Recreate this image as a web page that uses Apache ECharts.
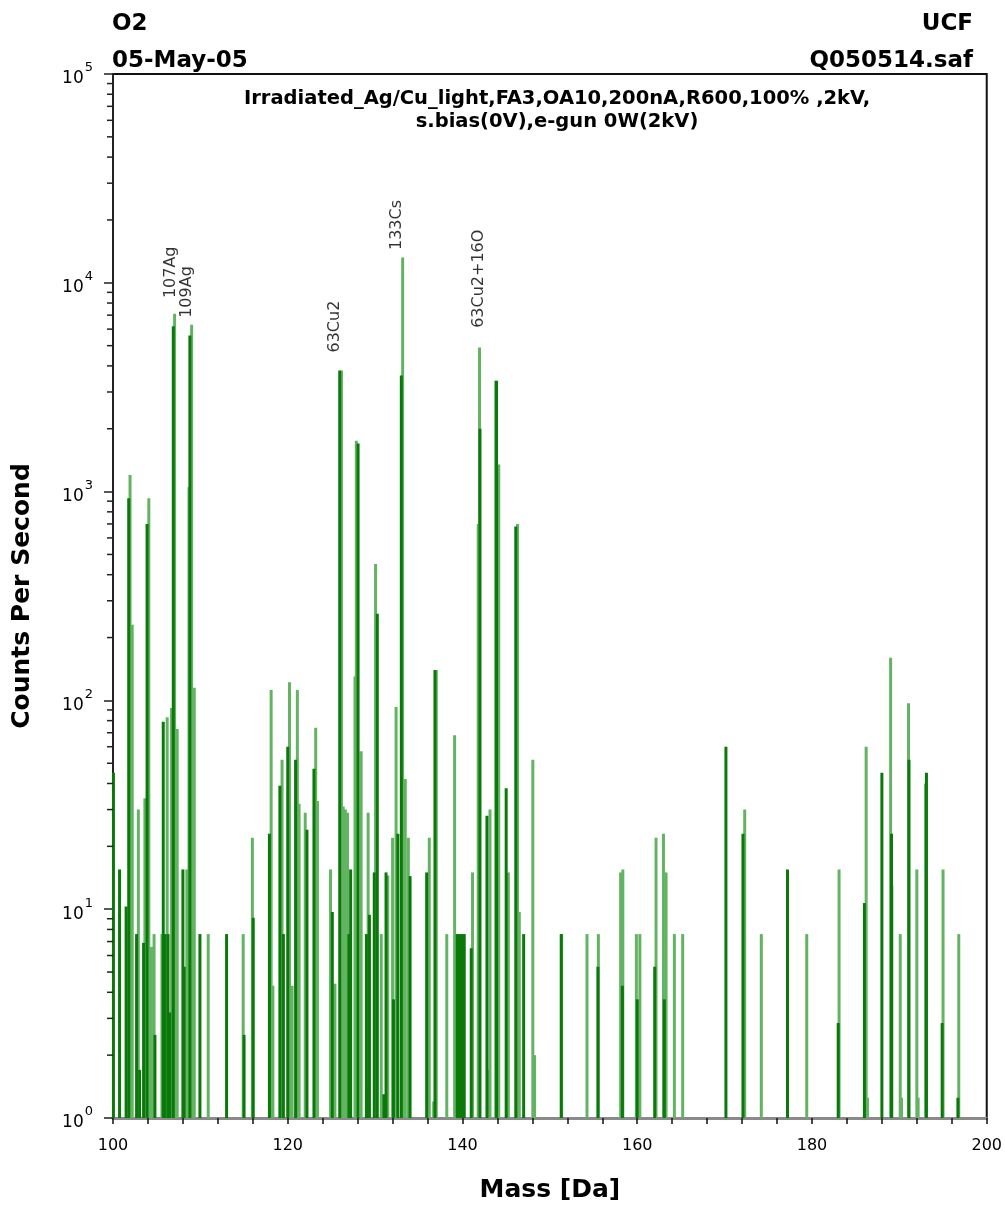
<!DOCTYPE html>
<html>
<head>
<meta charset="utf-8">
<script src="https://cdn.jsdelivr.net/npm/echarts@6/dist/echarts.min.js"></script>
<style>
  html, body { margin: 0; padding: 0; background: #fff; overflow: hidden; }
  #chart { width: 1005px; height: 1208px; }
</style>
</head>
<body>
<div id="chart"></div>
<script>
// dark green sticks: mass [Da] / counts per second
var darkMass = [100.05, 100.75, 101.5, 101.8, 102.7, 103.05, 103.5, 103.9, 104.8, 105.75, 105.95, 106.3, 106.5, 106.9,
  108.0, 108.15, 108.8, 109.95, 113.0, 115.0, 116.05, 117.9, 119.1, 119.5, 120.0, 120.9, 122.2, 123.0, 125.1, 125.95,
  127.0, 127.2, 128.05, 129.0, 129.15, 129.35, 129.9, 130.25, 131.0, 131.25, 132.1, 132.6, 133.0, 134.0, 135.9, 136.85,
  139.4, 139.65, 139.9, 140.2, 141.0, 142.0, 142.8, 143.9, 145.0, 146.1, 147.0, 151.3, 155.5, 158.3, 160.0, 162.0,
  163.1, 170.15, 172.1, 177.2, 183.0, 186.0, 188.0, 189.1, 191.1, 193.1, 194.9, 196.7]
var darkVal = [45, 15.5, 10.3, 930, 7.6, 1.7, 6.9, 700, 2.5, 79, 7.6, 7.6, 3.2, 6200,
  15.5, 5.3, 5600, 7.6, 7.6, 2.5, 9.1, 23, 39, 7.6, 60, 52, 24, 47, 9.7, 3800,
  7.6, 15.5, 1700, 7.6, 1.4, 9.4, 15, 260, 1.3, 15, 3.7, 23, 3600, 14.4, 15, 140,
  7.6, 7.6, 7.6, 7.6, 6.5, 2000, 28, 3400, 38, 680, 7.6, 7.6, 5.3, 4.3, 3.7, 5.3,
  3.7, 60, 23, 15.5, 2.85, 10.7, 45, 23, 52, 45, 2.85, 1.25]

// light green sticks
var lightMass = [101.95, 102.2, 102.9, 103.65, 104.1, 104.4, 104.7, 105.6, 106.2, 106.7, 107.05, 107.35, 108.45, 108.7,
  109.0, 109.3, 110.9, 114.9, 115.95, 118.1, 118.3, 119.35, 120.2, 120.5, 121.1, 121.3, 122.0, 123.2, 123.4, 124.9,
  125.4, 126.15, 126.35, 126.6, 126.85, 127.7, 127.85, 128.4, 129.2, 130.05, 130.7, 131.45, 132.0, 132.4, 133.15, 133.45,
  133.8, 136.2, 136.7, 137.0, 138.2, 139.1, 141.15, 141.8, 141.95, 142.95, 143.15, 143.8, 144.15, 145.25, 146.3, 146.5,
  148.05, 148.25, 151.35, 154.25, 155.55, 158.1, 158.35, 159.9, 160.3, 162.15, 163.0, 163.3, 164.25, 165.2, 172.3, 174.2,
  179.4, 183.1, 186.2, 186.35, 189.0, 189.15, 190.1, 190.25, 191.05, 192.0, 192.15, 193.0, 195.0, 196.8]
var lightVal = [1200, 230, 30, 34, 930, 6.6, 7.6, 7.6, 83, 92, 7100, 73, 15.5, 1050,
  6300, 115, 7.6, 7.6, 22, 112, 4.3, 52, 122, 4.3, 112, 32, 29, 74, 33, 15.5,
  4.4, 3800, 31, 30, 29, 130, 1750, 57, 29, 450, 7.6, 14.5, 22, 93, 13200, 42,
  22, 22, 1.2, 140, 7.6, 68, 15, 700, 4900, 1.7, 30, 3400, 1350, 15, 700, 9.7,
  52, 2.0, 7.6, 7.6, 7.6, 15, 15.5, 7.6, 7.6, 22, 23, 15, 7.6, 7.6, 30, 7.6,
  7.6, 15.5, 60, 1.25, 160, 13, 7.6, 1.25, 97, 15.5, 1.25, 40, 15.5, 7.6]

// peak annotations (anchor = bottom of the rotated text)
var peakNames = ['107Ag', '109Ag', '63Cu2', '133Cs', '63Cu2+16O']
var peakMass = [106.65, 108.54, 125.42, 132.55, 141.93]
var peakVal = [8400, 6760, 4610, 14280, 6050]

var FONT = '"DejaVu Sans", Arial, sans-serif'

function zip (a, b) {
  return a.map(function (v, i) { return [v, b[i]] })
}

// log minor ticks at 2..9 x 10^k, drawn on the left axis (mass 100)
var minorTickVals = []
for (var k = 0; k < 5; k++) {
  for (var j = 2; j < 10; j++) minorTickVals.push([100, j * Math.pow(10, k)])
}

function renderStick (params, api) {
  var top = api.coord([api.value(0), api.value(1)])
  var base = api.coord([api.value(0), 1])
  var w = 3
  return {
    type: 'rect',
    shape: { x: top[0] - w / 2, y: top[1], width: w, height: base[1] - top[1] },
    style: { fill: api.visual('color') }
  }
}

function renderMinorTick (params, api) {
  var p = api.coord([api.value(0), api.value(1)])
  return {
    type: 'line',
    shape: { x1: p[0] - 6, y1: p[1], x2: p[0], y2: p[1] },
    style: { stroke: '#222', lineWidth: 1.5 }
  }
}

var headStyle = { fontFamily: FONT, fontWeight: 'bold', fontSize: 23, color: '#000' }

var chart = echarts.init(document.getElementById('chart'))
var option = {
  animation: false,
  backgroundColor: '#fff',
  title: [
    { text: 'O2', left: 112, top: 13, padding: 0, textStyle: headStyle },
    { text: '05-May-05', left: 112, top: 50, padding: 0, textStyle: headStyle },
    { text: 'UCF', right: 32, top: 13, padding: 0, textStyle: headStyle },
    { text: 'Q050514.saf', right: 32, top: 50, padding: 0, textStyle: headStyle },
    {
      text: 'Irradiated_Ag/Cu_light,FA3,OA10,200nA,R600,100% ,2kV,\ns.bias(0V),e-gun 0W(2kV)',
      left: 552,
      top: 82,
      textAlign: 'center',
      textStyle: { fontFamily: FONT, fontWeight: 'bold', fontSize: 19.5, lineHeight: 23, color: '#000' }
    }
  ],
  grid: {
    left: 113,
    right: 13,
    top: 74,
    bottom: 83,
    show: true,
    borderColor: '#111',
    borderWidth: 2
  },
  xAxis: {
    type: 'value',
    min: 100,
    max: 200,
    interval: 20,
    name: 'Mass [Da]',
    nameLocation: 'middle',
    nameGap: 60,
    nameTextStyle: { fontFamily: FONT, fontWeight: 'bold', fontSize: 25, color: '#000' },
    axisLine: { onZero: false, lineStyle: { color: '#8a8a8a', width: 3 } },
    axisTick: { show: true, length: 6, lineStyle: { color: '#111', width: 1.5 } },
    minorTick: { show: true, splitNumber: 5, length: 6, lineStyle: { color: '#111', width: 1.5 } },
    splitLine: { show: false },
    axisLabel: { fontFamily: FONT, fontSize: 16, color: '#000', margin: 20 }
  },
  yAxis: {
    type: 'log',
    logBase: 10,
    min: 1,
    max: 100000,
    name: 'Counts Per Second',
    nameLocation: 'middle',
    nameGap: 78,
    nameTextStyle: { fontFamily: FONT, fontWeight: 'bold', fontSize: 25, color: '#000' },
    axisLine: { lineStyle: { color: '#222', width: 2 } },
    axisTick: { show: true, length: 9, lineStyle: { color: '#222', width: 1.5 } },
    splitLine: { show: false },
    axisLabel: {
      margin: 20,
      formatter: function (v) {
        return '{b|10}{e|' + Math.round(Math.log10(v)) + '}'
      },
      rich: {
        b: { fontFamily: FONT, fontSize: 17, color: '#000', padding: [10, 0, 0, 0] },
        e: { fontFamily: FONT, fontSize: 13, color: '#000', padding: [0, 0, 12, 1] }
      }
    }
  },
  series: [
    {
      name: 'light',
      type: 'custom',
      renderItem: renderStick,
      itemStyle: { color: '#62b462' },
      encode: { x: 0, y: 1 },
      data: zip(lightMass, lightVal),
      z: 2
    },
    {
      name: 'dark',
      type: 'custom',
      renderItem: renderStick,
      itemStyle: { color: '#0a790a' },
      encode: { x: 0, y: 1 },
      data: zip(darkMass, darkVal),
      z: 3
    },
    {
      name: 'minorTicks',
      type: 'custom',
      renderItem: renderMinorTick,
      clip: false,
      silent: true,
      encode: { x: 0, y: 1 },
      data: minorTickVals,
      z: 4
    },
    {
      name: 'peaks',
      type: 'scatter',
      symbolSize: 1,
      silent: true,
      itemStyle: { color: 'rgba(0,0,0,0)' },
      data: peakNames.map(function (n, i) { return { name: n, value: [peakMass[i], peakVal[i]] } }),
      label: {
        show: true,
        formatter: '{b}',
        position: [0, 0],
        rotate: 90,
        align: 'left',
        verticalAlign: 'middle',
        fontFamily: FONT,
        fontSize: 16,
        color: '#000'
      },
      z: 5
    }
  ]
}
chart.setOption(option)
</script>
</body>
</html>
